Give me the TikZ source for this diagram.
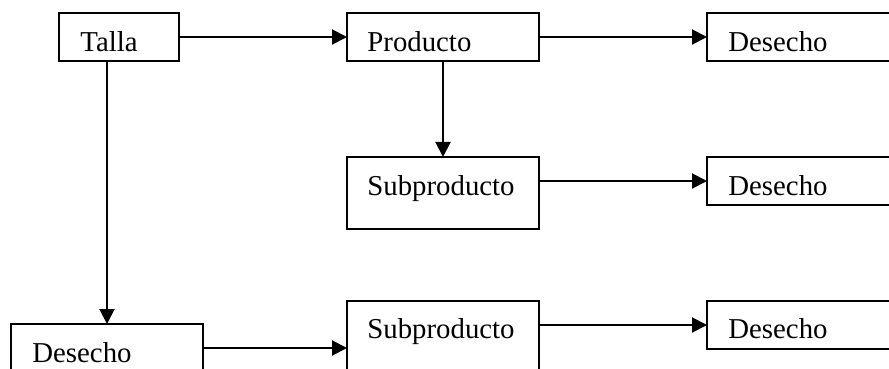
\documentclass[tikz,border=0pt]{standalone}
\usepackage{fontspec}
\setmainfont{Liberation Serif}
\usetikzlibrary{arrows.meta}
\begin{document}
\begin{tikzpicture}[x=0.5pt,y=-0.5pt,
  box/.style={draw,line width=1pt,rectangle,inner sep=0pt,outer sep=0pt,anchor=north west,minimum width=96pt,minimum height=24pt},
  tall/.style={minimum height=36pt},
  narrow/.style={minimum width=60pt},
  txt/.style={anchor=base west,inner sep=0pt,font=\fontsize{14.4}{17}\selectfont},
  conn/.style={line width=1pt,-{Triangle[length=7.5pt,width=7.5pt]}}]
\useasboundingbox (0,0) rectangle (889,369);
\clip (0,0) rectangle (889,369);
\node[box,narrow] (talla) at (59,13) {};
\node[box] (prod) at (347,13) {};
\node[box] (des1) at (707,13) {};
\node[box,tall] (sub1) at (347,157) {};
\node[box] (des2) at (707,157) {};
\node[box] (des3) at (11,324) {};
\node[box,tall] (sub2) at (347,301) {};
\node[box] (des4) at (707,301) {};
\node[txt] (ttalla) at ([shift={(21,38.5)}]talla.north west) {Talla};
\node[txt] (tprod) at ([shift={(20,38.5)}]prod.north west) {Producto};
\node[txt] (tdes1) at ([shift={(21,38.5)}]des1.north west) {Desecho};
\node[txt] (tsub1) at ([shift={(20,38)}]sub1.north west) {Subproducto};
\node[txt] (tdes2) at ([shift={(21,38)}]des2.north west) {Desecho};
\node[txt] (tdes3) at ([shift={(21,38)}]des3.north west) {Desecho};
\node[txt] (tsub2) at ([shift={(20,37)}]sub2.north west) {Subproducto};
\node[txt] (tdes4) at ([shift={(21,37)}]des4.north west) {Desecho};
\draw[conn] (talla.east) -- (prod.west);
\draw[conn] (prod.east) -- (des1.west);
\draw[conn] (prod.south) -- (sub1.north);
\draw[conn] (sub1.east |- des2.west) -- (des2.west);
\draw[conn] (talla.south -| des3.north) -- (des3.north);
\draw[conn] (des3.east) -- (des3.east -| sub2.west);
\draw[conn] (sub2.east |- des4.west) -- (des4.west);
\end{tikzpicture}
\end{document}
